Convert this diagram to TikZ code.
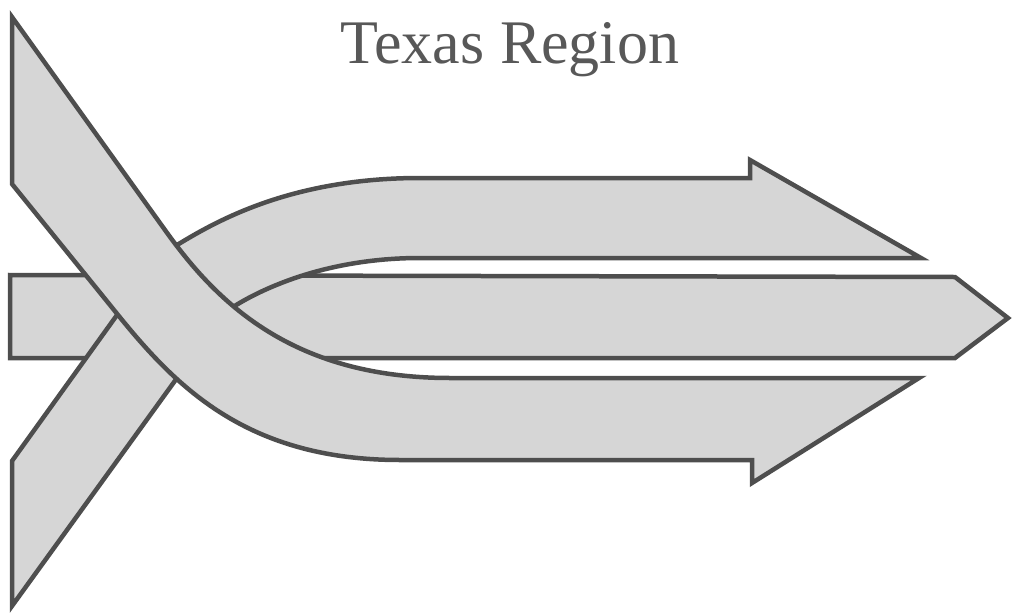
\documentclass[tikz,border=0pt]{standalone}
\usepackage{fontspec}
\setmainfont{Liberation Serif}
\usepackage{tikz}
\usetikzlibrary{positioning}
\definecolor{bandfill}{RGB}{214,214,214}
\definecolor{bandline}{RGB}{78,78,78}
\definecolor{titlegray}{RGB}{88,88,88}

\begin{document}
\begin{tikzpicture}[
  x=0.5pt, y=-0.5pt,
  band/.style={draw=bandline, fill=bandfill, line width=2.25pt, line join=miter},
  title/.style={text=titlegray, font=\fontsize{31}{36}\selectfont, inner sep=0pt}
]
\useasboundingbox (0,0) rectangle (1014,616);
\node[title, anchor=base] (title) at (510,63) {Texas Region};
% middle band, straight through
\draw[band] (10,275) -- (955,277) -- (1008,318) -- (955,358) -- (10,358) -- cycle;
% band from lower left, ending in the upper arrow
\draw[band] (12,606) -- (177,378) .. controls (195,352) and (215,318) .. (233,307)
  .. controls (255,293) and (320,258) .. (420,258) -- (921,258) -- (750,160) -- (750,178)
  -- (420,178) .. controls (290,178) and (215,222) .. (177,245)
  .. controls (152,260) and (140,284) .. (117,315) -- (12,461) -- cycle;
% band from upper left, ending in the lower arrow
\draw[band] (12,17) -- (165,230) .. controls (215,300) and (290,378) .. (450,378)
  -- (919,378) -- (752,483) -- (752,460) -- (400,460)
  .. controls (240,460) and (170,380) .. (110,305) -- (12,184) -- cycle;
\end{tikzpicture}
\end{document}
